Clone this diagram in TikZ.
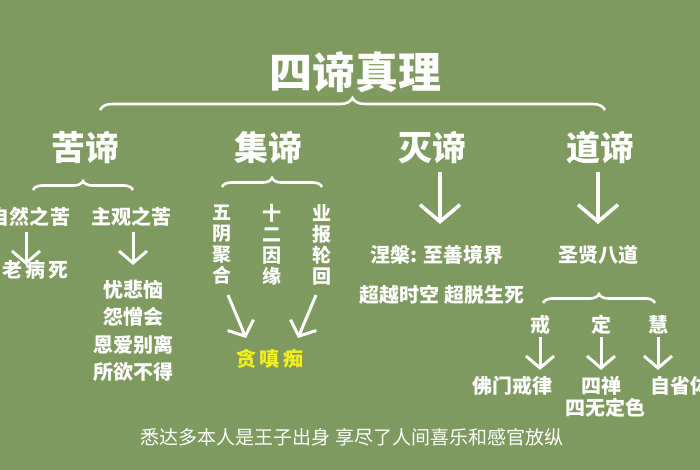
\documentclass[tikz,border=0pt]{standalone}
\usepackage{fontspec}
\setmainfont{Noto Sans CJK SC}
\usetikzlibrary{decorations.pathreplacing,arrows.meta}
\definecolor{board}{HTML}{7E9A5E}
\definecolor{chalkyellow}{HTML}{F5EE1E}
\tikzset{
  txt/.style={text=white,font=\bfseries\fontsize{20}{24}\selectfont,inner sep=0pt},
  head/.style={text=white,font=\bfseries\fontsize{34}{38}\selectfont,inner sep=0pt},
  vtxt/.style={txt,align=center,font=\bfseries\fontsize{19}{21}\selectfont},
  brc/.style={draw=white,line width=2.6pt,decorate,decoration={brace,amplitude=9pt}},
  arr/.style={draw=white,line width=3pt,-{Straight Barb[length=12pt,width=28pt]}},
  bigarr/.style={arr,line width=3.6pt,-{Straight Barb[length=17pt,width=40pt]}},
}
\begin{document}
\begin{tikzpicture}[x=1pt,y=1pt]
\useasboundingbox (0,0) rectangle (700,470);
\clip (0,0) rectangle (700,470);
\fill[board] (0,0) rectangle (700,470);
\node[text=white,font=\bfseries\fontsize{43}{46}\selectfont,inner sep=0pt] (title) at (355,398) {四谛真理};
\draw[brc,decoration={amplitude=12pt}] (100,360) -- (605,360);
% four truths
\node[head] (ku) at (85,322) {苦谛};
\node[head] (ji) at (268,322) {集谛};
\node[head] (mie) at (432,322) {灭谛};
\node[head] (dao) at (600,322) {道谛};
% suffering
\draw[brc] (33,280) -- (133,280);
\node[txt] (ziran) at (30,253) {自然之苦};
\node[txt] (zhuguan) at (131,253) {主观之苦};
\node[txt] (shenglao) at (24,200) {生\,老\,病\,死};
\node[txt,align=center,font=\bfseries\fontsize{20}{27.5}\selectfont] (youbei) at (133,139) {忧悲恼\\怨憎会\\恩爱别离\\所欲不得};
\draw[arr] (26,238) -- (26,205);
\draw[arr] (133,238) -- (133,205);
% origin
\draw[brc] (222,283) -- (322,283);
\node[vtxt] (wuyin) at (222,225) {五\\阴\\聚\\合};
\node[vtxt] (shier) at (272,225) {十\\二\\因\\缘};
\node[vtxt] (yebao) at (322,225) {业\\报\\轮\\回};
\node[txt,text=chalkyellow] (tan) at (270,111) {贪\,嗔\,痴};
\draw[arr] (228,175) -- (246,132);
\draw[arr] (316,175) -- (298,132);
% cessation
\draw[bigarr] (440,298) -- (440,246);
\node[txt] (niepan) at (437,215) {涅槃: 至善境界};
\node[txt] (chaoyue) at (442,175) {超越时空 超脱生死};
% path
\draw[bigarr] (598,298) -- (598,246);
\node[txt] (shengxian) at (598,215) {圣贤八道};
\draw[brc] (543,167) -- (655,167);
\node[txt] (jie) at (540,145) {戒};
\node[txt] (ding) at (601,145) {定};
\node[txt] (hui) at (658,145) {慧};
\draw[arr] (540,133) -- (540,100);
\draw[arr] (601,133) -- (601,100);
\draw[arr] (658,133) -- (658,100);
\node[txt] (fomen) at (512,84) {佛门戒律};
\node[txt] (sichan) at (601,84) {四禅};
\node[txt] (siwu) at (605,62) {四无定色};
\node[txt,anchor=west] (zixing) at (650,84) {自省体悟};
% caption
\node[txt,font=\fontsize{19}{22}\selectfont] (caption) at (352,33) {悉达多本人是王子出身\ 享尽了人间喜乐和感官放纵};
\end{tikzpicture}
\end{document}
